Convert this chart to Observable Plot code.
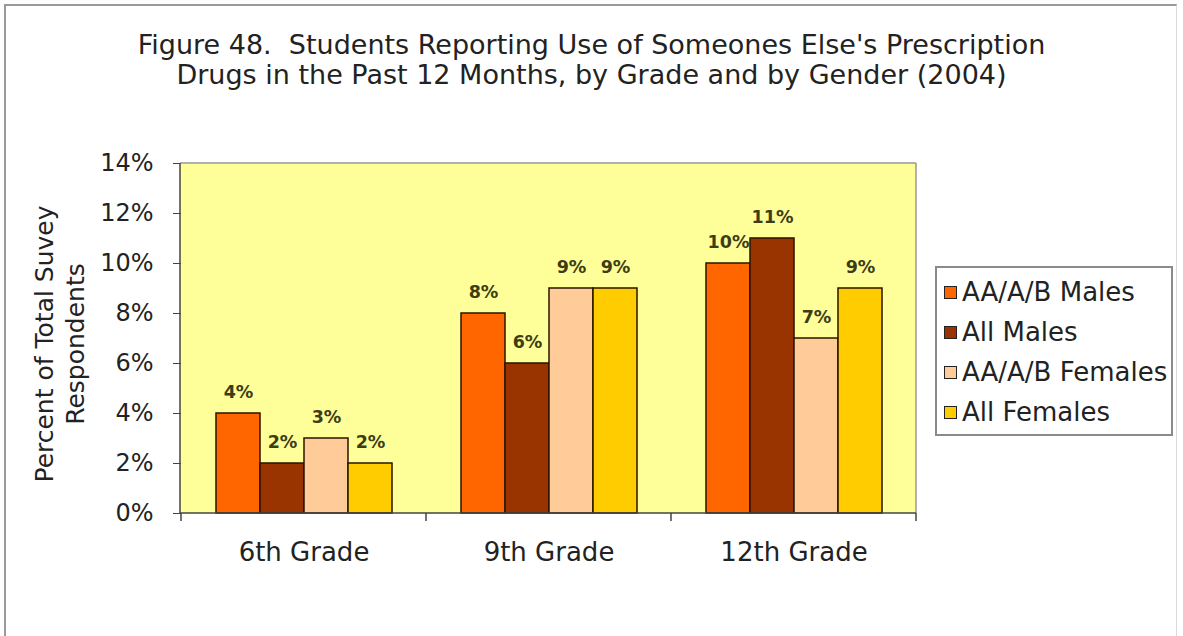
<!DOCTYPE html>
<html><head><meta charset="utf-8">
<script src="https://cdn.jsdelivr.net/npm/d3@7"></script>
<script src="https://cdn.jsdelivr.net/npm/@observablehq/plot@0.6"></script>
<style>
body{margin:0;background:#fff;}
#wrap{position:relative;width:1183px;height:636px;overflow:hidden;font-family:"DejaVu Sans",sans-serif;color:#1a1a1a;background:#fff;}
#frame{position:absolute;left:4px;top:4px;width:1170px;height:700px;border-left:2px solid #9a9a9a;border-top:2px solid #9a9a9a;border-right:1px solid #dcdcdc;}
#title{position:absolute;left:0;width:1183px;top:30px;text-align:center;font-size:27px;line-height:30px;color:#222;}
#ylabel{position:absolute;left:-90px;top:313px;width:300px;height:62px;line-height:31px;font-size:25px;text-align:center;transform:rotate(-90deg);transform-origin:50% 50%;color:#222;}
#chart{position:absolute;left:0;top:0;}
#legend{position:absolute;left:935px;top:266px;width:234px;height:162px;border:2px solid #8a8a8a;padding-top:4px;box-sizing:content-box;background:#fff;}
.row{height:40px;display:flex;align-items:center;font-size:26px;color:#222;white-space:nowrap;}
.sw{width:11px;height:11px;border:1.5px solid #222;margin-left:7px;margin-right:5px;flex:none;}
</style>
</head>
<body>
<div id="wrap">
  <div id="frame"></div>
  <div id="chart"></div>
  <div id="title">Figure 48.&nbsp; Students Reporting Use of Someones Else's Prescription<br>Drugs in the Past 12 Months, by Grade and by Gender (2004)</div>
  <div id="ylabel">Percent of Total Suvey<br>Respondents</div>
  <div id="legend"></div>
</div>
<script>
const grades = ["6th Grade", "9th Grade", "12th Grade"];
const series = ["AA/A/B Males", "All Males", "AA/A/B Females", "All Females"];
const aaMales = [4, 8, 10];
const allMales = [2, 6, 11];
const aaFemales = [3, 9, 7];
const allFemales = [2, 9, 9];
const colors = ["#FF6600", "#993300", "#FFCC99", "#FFCC00"];
const yTicks = [0, 2, 4, 6, 8, 10, 12, 14];

const seriesValues = [aaMales, allMales, aaFemales, allFemales];
const data = grades.flatMap((g, i) => series.map((s, j) => ({grade: g, series: s, value: seriesValues[j][i]})));

const chart = Plot.plot({
  width: 1183, height: 636,
  marginLeft: 180, marginRight: 267, marginTop: 163, marginBottom: 123,
  style: {fontFamily: "DejaVu Sans", fontSize: "24px", color: "#222", background: "transparent", overflow: "visible"},
  fx: {domain: grades, padding: 0, label: null},
  x: {domain: series, paddingInner: 0, paddingOuter: 0.75, axis: null},
  y: {domain: [0, 14], label: null},
  color: {domain: series, range: colors},
  marks: [
    Plot.barY(data, {fx: "grade", x: "series", y: "value", fill: "series", stroke: "#2a1500", strokeWidth: 1.5}),
    Plot.text(data, {fx: "grade", x: "series", y: "value", text: d => d.value + "%", dy: -21, fontWeight: "bold", fontSize: 17.5, fill: "#3d3d14"}),
    Plot.axisY({ticks: yTicks, tickFormat: d => d + "%", tickSize: 8, tickPadding: 20, fontSize: 24, label: null, stroke: "#444"}),
    Plot.axisFx({anchor: "bottom", tickSize: 0, tickPadding: 29, fontSize: 26, label: null})
  ]
});
document.getElementById("chart").appendChild(chart);

// plot-area background, border and category boundary ticks, positioned from the library scales
const svg = d3.select(chart);
const fx = chart.scale("fx");
const ys = chart.scale("y");
const [xl, xr] = [fx.range[0], fx.range[1]];
const [yb, yt] = [ys.range[0], ys.range[1]];
svg.insert("rect", ":first-child").attr("x", xl).attr("y", yt).attr("width", xr - xl).attr("height", yb - yt).attr("fill", "#FFFF99");
const g = svg.append("g").attr("fill", "none");
g.append("line").attr("x1", xl).attr("x2", xr).attr("y1", yt).attr("y2", yt).attr("stroke", "#999").attr("stroke-width", 1.5);
g.append("line").attr("x1", xr).attr("x2", xr).attr("y1", yt).attr("y2", yb).attr("stroke", "#999").attr("stroke-width", 1.5);
g.append("line").attr("x1", xl).attr("x2", xl).attr("y1", yt).attr("y2", yb).attr("stroke", "#444").attr("stroke-width", 1.5);
g.append("line").attr("x1", xl).attr("x2", xr).attr("y1", yb).attr("y2", yb).attr("stroke", "#444").attr("stroke-width", 1.5);
const bounds = grades.map(d => fx.apply(d)).concat([xr]);
bounds.forEach(x => g.append("line").attr("x1", x).attr("x2", x).attr("y1", yb).attr("y2", yb + 8).attr("stroke", "#444").attr("stroke-width", 1.5));

// legend
const legend = d3.select("#legend");
series.forEach((s, i) => {
  const row = legend.append("div").attr("class", "row");
  row.append("div").attr("class", "sw").style("background", colors[i]);
  row.append("span").text(s);
});
</script>
</body></html>
